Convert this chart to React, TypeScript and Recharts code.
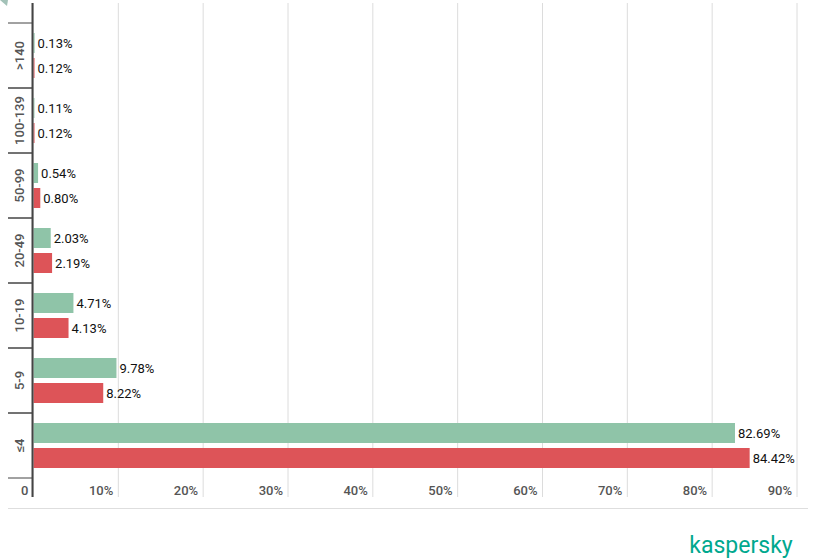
import React from 'react';
import { BarChart, Bar, XAxis, YAxis, CartesianGrid, LabelList } from 'recharts';

const categories = ['>140', '100-139', '50-99', '20-49', '10-19', '5-9', '≤4'];
const greenValues = [0.13, 0.11, 0.54, 2.03, 4.71, 9.78, 82.69];
const redValues = [0.12, 0.12, 0.8, 2.19, 4.13, 8.22, 84.42];
const xTicks = [0, 10, 20, 30, 40, 50, 60, 70, 80, 90];

const data = categories.map((c, i) => ({ cat: c, green: greenValues[i], red: redValues[i] }));

const FONT = 'Roboto, "Noto Sans", sans-serif';
const BAND = 65;

const XTick = (props: any) => {
  const { x, y, payload } = props;
  const v = payload.value;
  return (
    <text
      x={x - 5}
      y={y - 2.5}
      textAnchor="end"
      fontFamily={FONT}
      fontSize={13}
      fontWeight={500}
      fill="#555"
    >
      {v === 0 ? '0' : `${v}%`}
    </text>
  );
};

const YTick = (props: any) => {
  const { y, payload } = props;
  return (
    <g>
      <line x1={8} x2={33} y1={y - BAND / 2} y2={y - BAND / 2} stroke="#444" strokeWidth={1} />
      <line x1={8} x2={33} y1={y + BAND / 2} y2={y + BAND / 2} stroke="#444" strokeWidth={1} />
      <text
        x={0}
        y={0}
        transform={`translate(${24},${y}) rotate(-90)`}
        textAnchor="middle"
        fontFamily={FONT}
        fontSize={13}
        fontWeight={500}
        fill="#555"
      >
        {payload.value}
      </text>
    </g>
  );
};

const fmt = (v: any) => `${Number(v).toFixed(2)}%`;

export default function App() {
  return (
    <div style={{ position: 'absolute', left: 0, top: 0, width: 820, height: 559, background: '#fff' }}>
      <BarChart
        width={820}
        height={559}
        data={data}
        layout="vertical"
        margin={{ top: 3, right: 23, bottom: 42, left: 0 }}
        barSize={20}
        barGap={5}
      >
        <CartesianGrid horizontal={false} vertical={true} stroke="#dcdcdc" />
        <XAxis
          type="number"
          domain={[0, 90]}
          ticks={xTicks}
          axisLine={false}
          tickLine={false}
          tickSize={0}
          tickMargin={0}
          height={20}
          tick={<XTick />}
          interval={0}
        />
        <YAxis
          type="category"
          dataKey="cat"
          width={33.5}
          axisLine={false}
          tickLine={false}
          tick={<YTick />}
          padding={{ top: 20, bottom: 19 }}
          interval={0}
        />
        <Bar dataKey="green" fill="#8fc4a8" isAnimationActive={false}>
          <LabelList dataKey="green" position="right" offset={3} formatter={fmt} fill="#111" fontSize={13} fontFamily={FONT} />
        </Bar>
        <Bar dataKey="red" fill="#dd5458" isAnimationActive={false}>
          <LabelList dataKey="red" position="right" offset={3} formatter={fmt} fill="#111" fontSize={13} fontFamily={FONT} />
        </Bar>
      </BarChart>
      <svg width={820} height={559} style={{ position: 'absolute', left: 0, top: 0, pointerEvents: 'none' }}>
        <polygon points="0,0 8,0 7,6" fill="#a3c2b8" />
        <line x1={32.5} x2={32.5} y1={3} y2={497} stroke="#444" strokeWidth={2} />
        <line x1={8} x2={808} y1={508.5} y2={508.5} stroke="#dedede" strokeWidth={1} />
        <text x={741} y={553} textAnchor="middle" fontFamily={FONT} fontSize={23} fontWeight={400} fill="#00a88e">
          kaspersky
        </text>
      </svg>
    </div>
  );
}
